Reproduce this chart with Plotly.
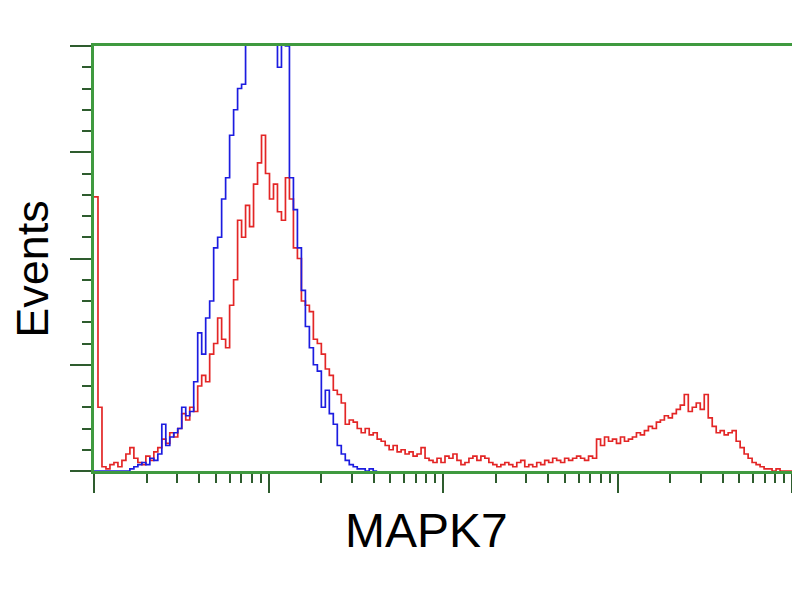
import numpy as np
import plotly.graph_objects as go

# Histogram counts per log-spaced channel (4 decades, 175 channels)
n_channels = 175
decades = 4

red_counts = [
    129, 30, 2, 1, 3, 4, 2, 5, 8, 11,
    6, 4, 3, 7, 5, 9, 11, 15, 13, 18,
    16, 20, 27, 24, 30, 28, 40, 45, 42, 55,
    60, 72, 62, 58, 78, 90, 118, 110, 125, 115,
    135, 145, 158, 140, 128, 135, 122, 118, 138, 128,
    105, 100, 80, 78, 75, 62, 60, 55, 48, 45,
    38, 36, 32, 22, 24, 23, 20, 18, 20, 17,
    18, 15, 14, 12, 10, 12, 9, 10, 8, 9,
    7, 8, 11, 6, 5, 4, 6, 4, 7, 6,
    8, 5, 3, 4, 6, 7, 5, 7, 6, 4,
    3, 2, 3, 4, 3, 2, 4, 5, 2, 3,
    2, 4, 3, 5, 4, 6, 5, 4, 6, 5,
    6, 7, 6, 5, 7, 6, 15, 12, 16, 14,
    15, 13, 16, 14, 15, 16, 18, 17, 19, 21,
    20, 23, 24, 26, 25, 27, 29, 31, 36, 28,
    30, 32, 29, 36, 25, 21, 18, 19, 17, 18,
    19, 14, 11, 8, 6, 4, 3, 2, 1, 1,
    0, 1, 0, 0, 0,
]

blue_counts = [
    0, 0, 0, 0, 0, 0, 0, 0, 0, 1,
    2, 3, 4, 3, 6, 5, 8, 22, 12, 16,
    18, 20, 30, 26, 28, 42, 65, 55, 72, 80,
    105, 110, 128, 138, 158, 170, 180, 182, 215, 225,
    235, 240, 245, 240, 220, 205, 190, 205, 200, 138,
    123, 105, 85, 68, 58, 50, 47, 30, 38, 27,
    22, 12, 8, 5, 3, 2, 1, 1, 0, 1, 0,
]

x_title = "MAPK7"
y_title = "Events"
y_max = 200

# channel -> intensity (log amplifier), left edge of each channel
channel_edges = 10 ** (np.arange(n_channels + 1) * decades / n_channels)


def step_xy(counts):
    xs = list(channel_edges[:len(counts) + 1])
    ys = list(counts) + [counts[-1]]
    return xs, ys


rx, ry = step_xy(red_counts)
bx, by = step_xy(blue_counts)

fig = go.Figure()
fig.add_trace(go.Scatter(x=rx, y=ry, mode="lines", line_shape="hv",
                         line=dict(color="#e32626", width=1.7), showlegend=False))
fig.add_trace(go.Scatter(x=bx, y=by, mode="lines", line_shape="hv",
                         line=dict(color="#1c1ce0", width=1.7), showlegend=False))

frame = "#3f9a3f"
tickc = "#2e5c2e"
major_x = [10 ** d for d in range(decades + 1)]
minor_x = [k * 10 ** d for d in range(decades) for k in range(2, 10)]

fig.update_xaxes(type="log", range=[0, decades], showgrid=False, zeroline=False,
                 showline=True, linecolor=frame, linewidth=2.5, mirror=True,
                 tickvals=major_x, showticklabels=False, ticks="outside",
                 ticklen=19, tickwidth=1.5, tickcolor=tickc,
                 minor=dict(tickvals=minor_x, ticks="outside", ticklen=9,
                            tickwidth=1.5, tickcolor=tickc, showgrid=False))
fig.update_yaxes(range=[0, y_max], showgrid=False, zeroline=False,
                 showline=True, linecolor=frame, linewidth=2.5, mirror=True,
                 tick0=0, dtick=50, showticklabels=False, ticks="outside",
                 ticklen=21, tickwidth=1.5, tickcolor=tickc,
                 minor=dict(dtick=10, ticks="outside", ticklen=9,
                            tickwidth=1.5, tickcolor=tickc, showgrid=False))

fig.add_annotation(text=x_title, xref="paper", yref="paper", x=0.477, y=-0.14,
                   xanchor="center", yanchor="middle", showarrow=False,
                   font=dict(family="Liberation Sans", size=48, color="black"))
fig.add_annotation(text=y_title, xref="paper", yref="paper", x=-0.088, y=0.475,
                   xanchor="center", yanchor="middle", showarrow=False, textangle=-90,
                   font=dict(family="Liberation Sans", size=45, color="black"))

fig.update_layout(width=800, height=600, plot_bgcolor="white", paper_bgcolor="white",
                  margin=dict(l=86, r=16, t=38, b=137))

fig.write_html("out.html")
